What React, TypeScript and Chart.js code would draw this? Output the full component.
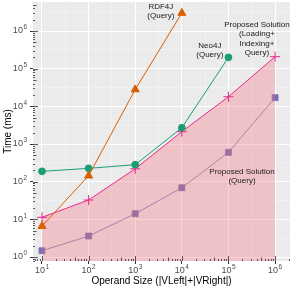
import React, { useEffect, useRef } from "react";
import { Chart, registerables } from "chart.js";

Chart.register(...registerables);

const operandSizes = [10, 100, 1000, 10000, 100000, 1000000];
const rdf4jQuery = [6.6, 144, 28000, 3.0e6];
const neo4jQuery = [188, 226, 282, 2700, 200000];
const proposedTotal = [11.3, 32.6, 220, 2130, 18000, 208000];
const proposedQuery = [1.47, 3.6, 14.1, 69, 600, 17000];

const seriesNames = ["RDF4J (Query)", "Neo4J (Query)", "Proposed Solution (Loading+Indexing+Query)", "Proposed Solution (Query)"];
const seriesColors = ["#D95F02", "#1B9E77", "#E7298A", "#7570B3"];

const annotationTexts = [
  ["RDF4J", "(Query)"],
  ["Neo4J", "(Query)"],
  ["Proposed Solution", "(Loading+", "Indexing+", "Query)"],
  ["Proposed Solution", "(Query)"],
];
const annotationX = [10 ** 3.55, 10 ** 4.6, 10 ** 5.61, 10 ** 5.29];
const annotationY = [10 ** 6.52, 10 ** 5.49, 10 ** 5.79, 10 ** 2.15];

const xMin = 10 ** 0.807;
const xMax = 10 ** 6.32;
const yMin = 10 ** -0.106;
const yMax = 10 ** 6.77;

const FONT = "'Liberation Sans', Arial, sans-serif";

function pts(vals: number[]) {
  return vals.map((v, i) => ({ x: operandSizes[i], y: v }));
}

function isMajor(v: number) {
  const l = Math.log10(v);
  return Math.abs(l - Math.round(l)) < 1e-6;
}

function buildTicks(scale: any) {
  const ticks: any[] = [];
  const lo = Math.floor(Math.log10(scale.min));
  const hi = Math.ceil(Math.log10(scale.max));
  for (let k = lo; k <= hi; k++) {
    for (const off of [0, 0.5]) {
      const v = 10 ** (k + off);
      if (v >= scale.min && v <= scale.max) ticks.push({ value: v, major: off === 0 });
    }
  }
  scale.ticks = ticks;
}

function noPad(s: any) {
  s.paddingLeft = 0;
  s.paddingRight = 0;
  s.paddingTop = 0;
  s.paddingBottom = 0;
}

function drawPower(ctx: any, exp: string, x: number, y: number, align: "center" | "right") {
  ctx.font = `9px ${FONT}`;
  const wBase = ctx.measureText("10").width;
  ctx.font = `6.5px ${FONT}`;
  const wExp = ctx.measureText(exp).width;
  const total = wBase + wExp + 0.5;
  const left = align === "center" ? x - total / 2 : x - total;
  ctx.textAlign = "left";
  ctx.textBaseline = "middle";
  ctx.font = `9px ${FONT}`;
  ctx.fillText("10", left, y);
  ctx.font = `6.5px ${FONT}`;
  ctx.fillText(exp, left + wBase + 0.5, y - 3.5);
}

const panelPlugin = {
  id: "panel",
  beforeDraw(chart: any) {
    const { ctx, chartArea } = chart;
    ctx.save();
    ctx.fillStyle = "#EBEBEB";
    ctx.fillRect(chartArea.left, chartArea.top, chartArea.right - chartArea.left, chartArea.bottom - chartArea.top);
    ctx.restore();
  },
  afterDatasetsDraw(chart: any) {
    const { ctx, chartArea, scales } = chart;
    ctx.save();
    // log ticks
    ctx.strokeStyle = "#333333";
    ctx.lineWidth = 0.8;
    for (let k = -1; k <= 7; k++) {
      for (let m = 1; m <= 9; m++) {
        const v = m * 10 ** k;
        const len = m === 1 ? 5 : m === 5 ? 3.5 : 2;
        if (v >= scales.x.min && v <= scales.x.max) {
          const px = Math.round(scales.x.getPixelForValue(v)) + 0.5;
          ctx.beginPath();
          ctx.moveTo(px, chartArea.bottom);
          ctx.lineTo(px, chartArea.bottom - len);
          ctx.stroke();
        }
        if (v >= scales.y.min && v <= scales.y.max) {
          const py = Math.round(scales.y.getPixelForValue(v)) + 0.5;
          ctx.beginPath();
          ctx.moveTo(chartArea.left, py);
          ctx.lineTo(chartArea.left + len, py);
          ctx.stroke();
        }
      }
    }
    // annotations
    ctx.fillStyle = "#1a1a1a";
    ctx.font = `8px ${FONT}`;
    ctx.textAlign = "center";
    ctx.textBaseline = "middle";
    const lh = 9.4;
    annotationTexts.forEach((lines, i) => {
      const cx = scales.x.getPixelForValue(annotationX[i]);
      const cy = scales.y.getPixelForValue(annotationY[i]);
      const start = cy - ((lines.length - 1) * lh) / 2;
      lines.forEach((t, j) => ctx.fillText(t, cx, start + j * lh));
    });
    ctx.restore();
  },
  afterDraw(chart: any) {
    const { ctx, chartArea, scales } = chart;
    ctx.save();
    ctx.fillStyle = "#4D4D4D";
    scales.x.ticks.forEach((t: any) => {
      if (!isMajor(t.value)) return;
      const e = String(Math.round(Math.log10(t.value)));
      drawPower(ctx, e, scales.x.getPixelForValue(t.value), chartArea.bottom + 10, "center");
    });
    scales.y.ticks.forEach((t: any) => {
      if (!isMajor(t.value)) return;
      const e = String(Math.round(Math.log10(t.value)));
      drawPower(ctx, e, chartArea.left - 6, scales.y.getPixelForValue(t.value), "right");
    });
    ctx.restore();
  },
};

export default function App() {
  const ref = useRef<HTMLCanvasElement | null>(null);
  useEffect(() => {
    if (!ref.current) return;
    const gridColor = (c: any) => (c.tick && c.tick.major ? "#FFFFFF" : "rgba(255,255,255,0.6)");
    const gridWidth = (c: any) => (c.tick && c.tick.major ? 1 : 0.5);
    const tickColor = (c: any) => (c.tick && c.tick.major ? "#333333" : "rgba(0,0,0,0)");
    const chart = new Chart(ref.current, {
      type: "line",
      data: {
        datasets: [
          {
            label: seriesNames[0],
            data: pts(rdf4jQuery),
            borderColor: seriesColors[0],
            backgroundColor: seriesColors[0],
            borderWidth: 1,
            pointStyle: "triangle",
            pointRadius: 4.6,
            fill: false,
          },
          {
            label: seriesNames[1],
            data: pts(neo4jQuery),
            borderColor: seriesColors[1],
            backgroundColor: seriesColors[1],
            borderWidth: 1,
            pointStyle: "circle",
            pointRadius: 3.4,
            fill: false,
          },
          {
            label: seriesNames[2],
            data: pts(proposedTotal),
            borderColor: seriesColors[2],
            backgroundColor: "rgba(246,110,120,0.32)",
            pointBackgroundColor: seriesColors[2],
            pointBorderColor: seriesColors[2],
            borderWidth: 1,
            pointStyle: "cross",
            pointRadius: 5,
            pointBorderWidth: 1,
            fill: "start",
          },
          {
            label: seriesNames[3],
            data: pts(proposedQuery),
            borderColor: "rgba(117,112,179,0.8)",
            backgroundColor: seriesColors[3],
            borderWidth: 1,
            pointStyle: "rect",
            pointRadius: 4.2,
            fill: false,
          },
        ],
      },
      options: {
        animation: false,
        responsive: true,
        maintainAspectRatio: false,
        layout: { autoPadding: false, padding: { top: 2, right: 0, left: 0, bottom: 0 } },
        plugins: { legend: { display: false }, tooltip: { enabled: false } },
        elements: { line: { tension: 0 } },
        scales: {
          x: {
            type: "logarithmic",
            min: xMin,
            max: xMax,
            afterBuildTicks: buildTicks,
            afterFit: (s: any) => {
              s.height = 26;
              noPad(s);
            },
            border: { display: false },
            grid: { color: gridColor, lineWidth: gridWidth, tickColor, tickLength: 3, drawTicks: true },
            ticks: { display: false, autoSkip: false },
            title: {
              display: true,
              text: "Operand Size (|VLeft|+|VRight|)",
              color: "#000000",
              font: { family: FONT, size: 10 },
              padding: { top: 0, bottom: 0 },
            },
          },
          y: {
            type: "logarithmic",
            min: yMin,
            max: yMax,
            afterBuildTicks: buildTicks,
            afterFit: (s: any) => {
              s.width = 33;
              noPad(s);
            },
            border: { display: false },
            grid: { color: gridColor, lineWidth: gridWidth, tickColor, tickLength: 3, drawTicks: true },
            ticks: { display: false, autoSkip: false },
            title: {
              display: true,
              text: "Time (ms)",
              color: "#000000",
              font: { family: FONT, size: 10 },
              padding: { top: 2, bottom: 0 },
            },
          },
        },
      },
      plugins: [panelPlugin],
    });
    return () => chart.destroy();
  }, []);
  return (
    <div style={{ position: "fixed", left: 0, top: 0, width: 290, height: 287, background: "#fff" }}>
      <canvas ref={ref} />
    </div>
  );
}
